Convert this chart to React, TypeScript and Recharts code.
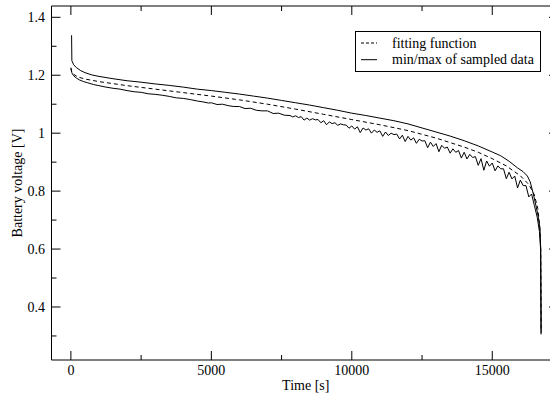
import React from 'react';
import { LineChart, Line, XAxis, YAxis, Legend } from 'recharts';

const FIT_NAME = 'fitting function';
const DATA_NAME = 'min/max of sampled data';
const X_LABEL = 'Time [s]';
const Y_LABEL = 'Battery voltage [V]';

const xMajorTicks = [0, 5000, 10000, 15000];
const xMinorTicks = [2500, 7500, 12500];
const yMajorTicks = [0.4, 0.6, 0.8, 1, 1.2, 1.4];
const yMinorTicks = [0.3, 0.5, 0.7, 0.9, 1.1, 1.3];
const xDomain: [number, number] = [-690, 17340];
const yDomain: [number, number] = [0.217, 1.439];

// fitting function [time s, voltage V]
const fitSeries: [number, number][] = [
  [0, 1.226], [30, 1.212], [100, 1.203], [250, 1.194], [500, 1.187], [1000, 1.178],
  [1500, 1.171], [2000, 1.164], [3000, 1.152], [4000, 1.14], [5000, 1.128], [6000, 1.115],
  [7000, 1.1], [8000, 1.083], [9000, 1.065], [10000, 1.047], [11000, 1.029], [12000, 1.009],
  [13000, 0.983], [14000, 0.952], [14500, 0.934], [15000, 0.912], [15500, 0.887], [16000, 0.853],
  [16300, 0.823], [16500, 0.787], [16620, 0.74], [16690, 0.68], [16725, 0.6], [16740, 0.32],
];

// max of sampled data
const maxSeries: [number, number][] = [
  [25, 1.338], [35, 1.25], [100, 1.236], [200, 1.226], [350, 1.216], [500, 1.209],
  [750, 1.201], [1000, 1.196], [1500, 1.188], [2000, 1.181], [2500, 1.176], [3000, 1.17],
  [3500, 1.165], [4000, 1.159], [4500, 1.152], [5000, 1.147], [5500, 1.141], [6000, 1.135],
  [6500, 1.128], [7000, 1.121], [7500, 1.113], [8000, 1.105], [8500, 1.097], [9000, 1.088],
  [9500, 1.079], [10000, 1.069], [10500, 1.061], [11000, 1.052], [11500, 1.043], [12000, 1.032],
  [12500, 1.018], [13000, 1.004], [13500, 0.99], [14000, 0.974], [14500, 0.956], [15000, 0.935],
  [15300, 0.922], [15600, 0.903], [15900, 0.88], [16100, 0.867], [16250, 0.852], [16350, 0.832],
  [16450, 0.795], [16550, 0.752], [16640, 0.71], [16700, 0.668], [16725, 0.6], [16737, 0.305],
];

// min of sampled data
const minSeries: [number, number][] = [
  [0, 1.224], [30, 1.21], [60, 1.203], [100, 1.198], [200, 1.19], [300, 1.184], [450, 1.178],
  [600, 1.174], [800, 1.168], [1000, 1.164], [1250, 1.159], [1500, 1.155], [1750, 1.152],
  [2000, 1.147], [2250, 1.143], [2500, 1.141], [2750, 1.136], [3000, 1.134], [3250, 1.131],
  [3500, 1.127], [3750, 1.122], [4000, 1.12], [4250, 1.116], [4500, 1.111], [4700, 1.108],
  [4900, 1.104], [5000, 1.105], [5200, 1.099], [5400, 1.1], [5600, 1.095], [5800, 1.092],
  [6000, 1.092], [6200, 1.085], [6400, 1.086], [6600, 1.079], [6800, 1.077], [7000, 1.077],
  [7200, 1.068], [7400, 1.069], [7600, 1.062], [7800, 1.061], [7900, 1.056],
  [8000, 1.06], [8100, 1.054], [8200, 1.057], [8300, 1.045], [8400, 1.052], [8500, 1.045],
  [8600, 1.05], [8700, 1.046], [8800, 1.047], [8900, 1.036], [9000, 1.043], [9100, 1.029],
  [9200, 1.039], [9300, 1.033], [9400, 1.036], [9500, 1.027], [9600, 1.032], [9700, 1.029],
  [9800, 1.028], [9900, 1.017], [10000, 1.025], [10100, 1.014], [10200, 1.022], [10300, 1.002],
  [10400, 1.018], [10500, 1.011], [10600, 1.015], [10700, 1.0], [10800, 1.011], [10900, 1.003],
  [11000, 1.008], [11100, 0.989], [11200, 1.004], [11300, 0.992], [11400, 1.0], [11500, 0.995],
  [11600, 0.997], [11700, 0.98], [11800, 0.993], [11900, 0.971], [12000, 0.989], [12100, 0.976],
  [12200, 0.984], [12300, 0.965], [12400, 0.979], [12500, 0.973], [12600, 0.974], [12700, 0.95],
  [12800, 0.969], [12900, 0.954], [13000, 0.964], [13100, 0.936], [13200, 0.958], [13300, 0.948],
  [13400, 0.952], [13500, 0.931], [13600, 0.946], [13700, 0.934], [13800, 0.94], [13900, 0.914],
  [14000, 0.934], [14100, 0.911], [14200, 0.927], [14300, 0.916], [14400, 0.919], [14500, 0.889],
  [14600, 0.912], [14700, 0.872], [14800, 0.904], [14900, 0.886], [15000, 0.897], [15100, 0.87],
  [15200, 0.887], [15300, 0.877], [15400, 0.877], [15500, 0.843], [15600, 0.865], [15700, 0.842],
  [15800, 0.852], [15900, 0.811], [16000, 0.838], [16100, 0.819], [16200, 0.819], [16300, 0.78],
  [16400, 0.79], [16500, 0.75], [16600, 0.71], [16680, 0.66], [16720, 0.6], [16740, 0.31],
];

const toRows = (s: [number, number][]) => s.map(([t, v]) => ({ t, v }));
const fitData = toRows(fitSeries);
const maxData = toRows(maxSeries);
const minData = toRows(minSeries);

const xTicks = [...xMajorTicks, ...xMinorTicks].sort((a, b) => a - b);
const yTicks = [...yMajorTicks, ...yMinorTicks].sort((a, b) => a - b);

const FONT = '"Liberation Serif", "Times New Roman", serif';
const MAJOR = 9;
const MINOR = 5;

const BottomTick = (p: any) => {
  const { x, y, payload } = p;
  const major = xMajorTicks.includes(payload.value);
  return (
    <g>
      <line x1={x} x2={x} y1={y} y2={y - (major ? MAJOR : MINOR)} stroke="#000" />
      {major && (
        <text x={x} y={y + 15} textAnchor="middle" fontSize={14} fontFamily={FONT} fill="#000">
          {String(payload.value)}
        </text>
      )}
    </g>
  );
};

const TopTick = (p: any) => {
  const { x, y, payload } = p;
  const major = xMajorTicks.includes(payload.value);
  return <line x1={x} x2={x} y1={y} y2={y + (major ? MAJOR : MINOR)} stroke="#000" />;
};

const LeftTick = (p: any) => {
  const { x, y, payload } = p;
  const major = yMajorTicks.includes(payload.value);
  return (
    <g>
      <line x1={x} x2={x + (major ? MAJOR : MINOR)} y1={y} y2={y} stroke="#000" />
      {major && (
        <text x={x - 6.5} y={y + 5} textAnchor="end" fontSize={14} fontFamily={FONT} fill="#000">
          {String(payload.value)}
        </text>
      )}
    </g>
  );
};

const RightTick = (p: any) => {
  const { x, y, payload } = p;
  const major = yMajorTicks.includes(payload.value);
  return <line x1={x} x2={x - (major ? MAJOR : MINOR)} y1={y} y2={y} stroke="#000" />;
};

const XLabel = (p: any) => {
  const vb = p.viewBox || { x: 0, y: 0, width: 0 };
  return (
    <text x={vb.x + vb.width / 2 + 1} y={vb.y + 29.5} textAnchor="middle" fontSize={14} fontFamily={FONT} fill="#000">
      {X_LABEL}
    </text>
  );
};

const YLabel = (p: any) => {
  const vb = p.viewBox || { x: 0, y: 0, height: 0 };
  const cx = vb.x - 29;
  const cy = vb.y + vb.height / 2;
  return (
    <text x={cx} y={cy} transform={`rotate(-90 ${cx} ${cy})`} textAnchor="middle" fontSize={14} fontFamily={FONT} fill="#000">
      {Y_LABEL}
    </text>
  );
};

const LegendBox = (props: any) => {
  const items = (props.payload || []).filter((e: any) => e.type !== 'none');
  items.sort((a: any, b: any) => (a.value === FIT_NAME ? -1 : b.value === FIT_NAME ? 1 : 0));
  return (
    <svg width={186} height={41} style={{ display: 'block' }}>
      <rect x={0.5} y={0.5} width={185} height={40} fill="#fff" stroke="#000" />
      {items.map((e: any, i: number) => {
        const cy = 12 + i * 16.7;
        return (
          <g key={i}>
            <line x1={6} x2={22} y1={cy} y2={cy} stroke="#000" strokeDasharray={e.value === FIT_NAME ? '3 2' : undefined} />
            <text x={37} y={cy + 4.5} fontSize={14} fontFamily={FONT} fill="#000">{e.value}</text>
          </g>
        );
      })}
    </svg>
  );
};

export default function App() {
  return (
    <div style={{ position: 'absolute', left: 0, top: 0, width: 550, height: 394, overflow: 'hidden', background: '#fff', fontFamily: FONT }}>
      <LineChart width={570} height={394} margin={{ top: 5, right: 11, bottom: 33, left: 50.5 }}>
        <XAxis xAxisId="b" dataKey="t" type="number" orientation="bottom" domain={xDomain} allowDataOverflow
          ticks={xTicks} interval={0} height={1} tickSize={0} tickMargin={0} tickLine={false}
          axisLine={{ stroke: '#000' }} tick={<BottomTick />} label={<XLabel />} />
        <XAxis xAxisId="t" dataKey="t" type="number" orientation="top" domain={xDomain} allowDataOverflow
          ticks={xTicks} interval={0} height={1} tickSize={0} tickMargin={0} tickLine={false}
          axisLine={{ stroke: '#000' }} tick={<TopTick />} />
        <YAxis yAxisId="l" type="number" orientation="left" domain={yDomain} allowDataOverflow
          ticks={yTicks} interval={0} width={1} tickSize={0} tickMargin={0} tickLine={false}
          axisLine={{ stroke: '#000' }} tick={<LeftTick />} label={<YLabel />} />
        <YAxis yAxisId="r" type="number" orientation="right" domain={yDomain} allowDataOverflow
          ticks={yTicks} interval={0} width={1} tickSize={0} tickMargin={0} tickLine={false}
          axisLine={{ stroke: '#000' }} tick={<RightTick />} />
        <Legend layout="horizontal" verticalAlign="middle" align="center" content={<LegendBox />}
          wrapperStyle={{ left: 355, top: 31, width: 186, height: 41 }} />
        <Line xAxisId="b" yAxisId="l" data={fitData} dataKey="v" name={FIT_NAME} type="linear" dot={false}
          stroke="#000" strokeWidth={1} strokeDasharray="4 3" isAnimationActive={false} />
        <Line xAxisId="b" yAxisId="l" data={minData} dataKey="v" name={DATA_NAME} type="linear" dot={false}
          stroke="#000" strokeWidth={1} isAnimationActive={false} />
        <Line xAxisId="b" yAxisId="l" data={maxData} dataKey="v" name={DATA_NAME + ' (max)'} legendType="none" type="linear" dot={false}
          stroke="#000" strokeWidth={1} isAnimationActive={false} />
      </LineChart>
    </div>
  );
}
